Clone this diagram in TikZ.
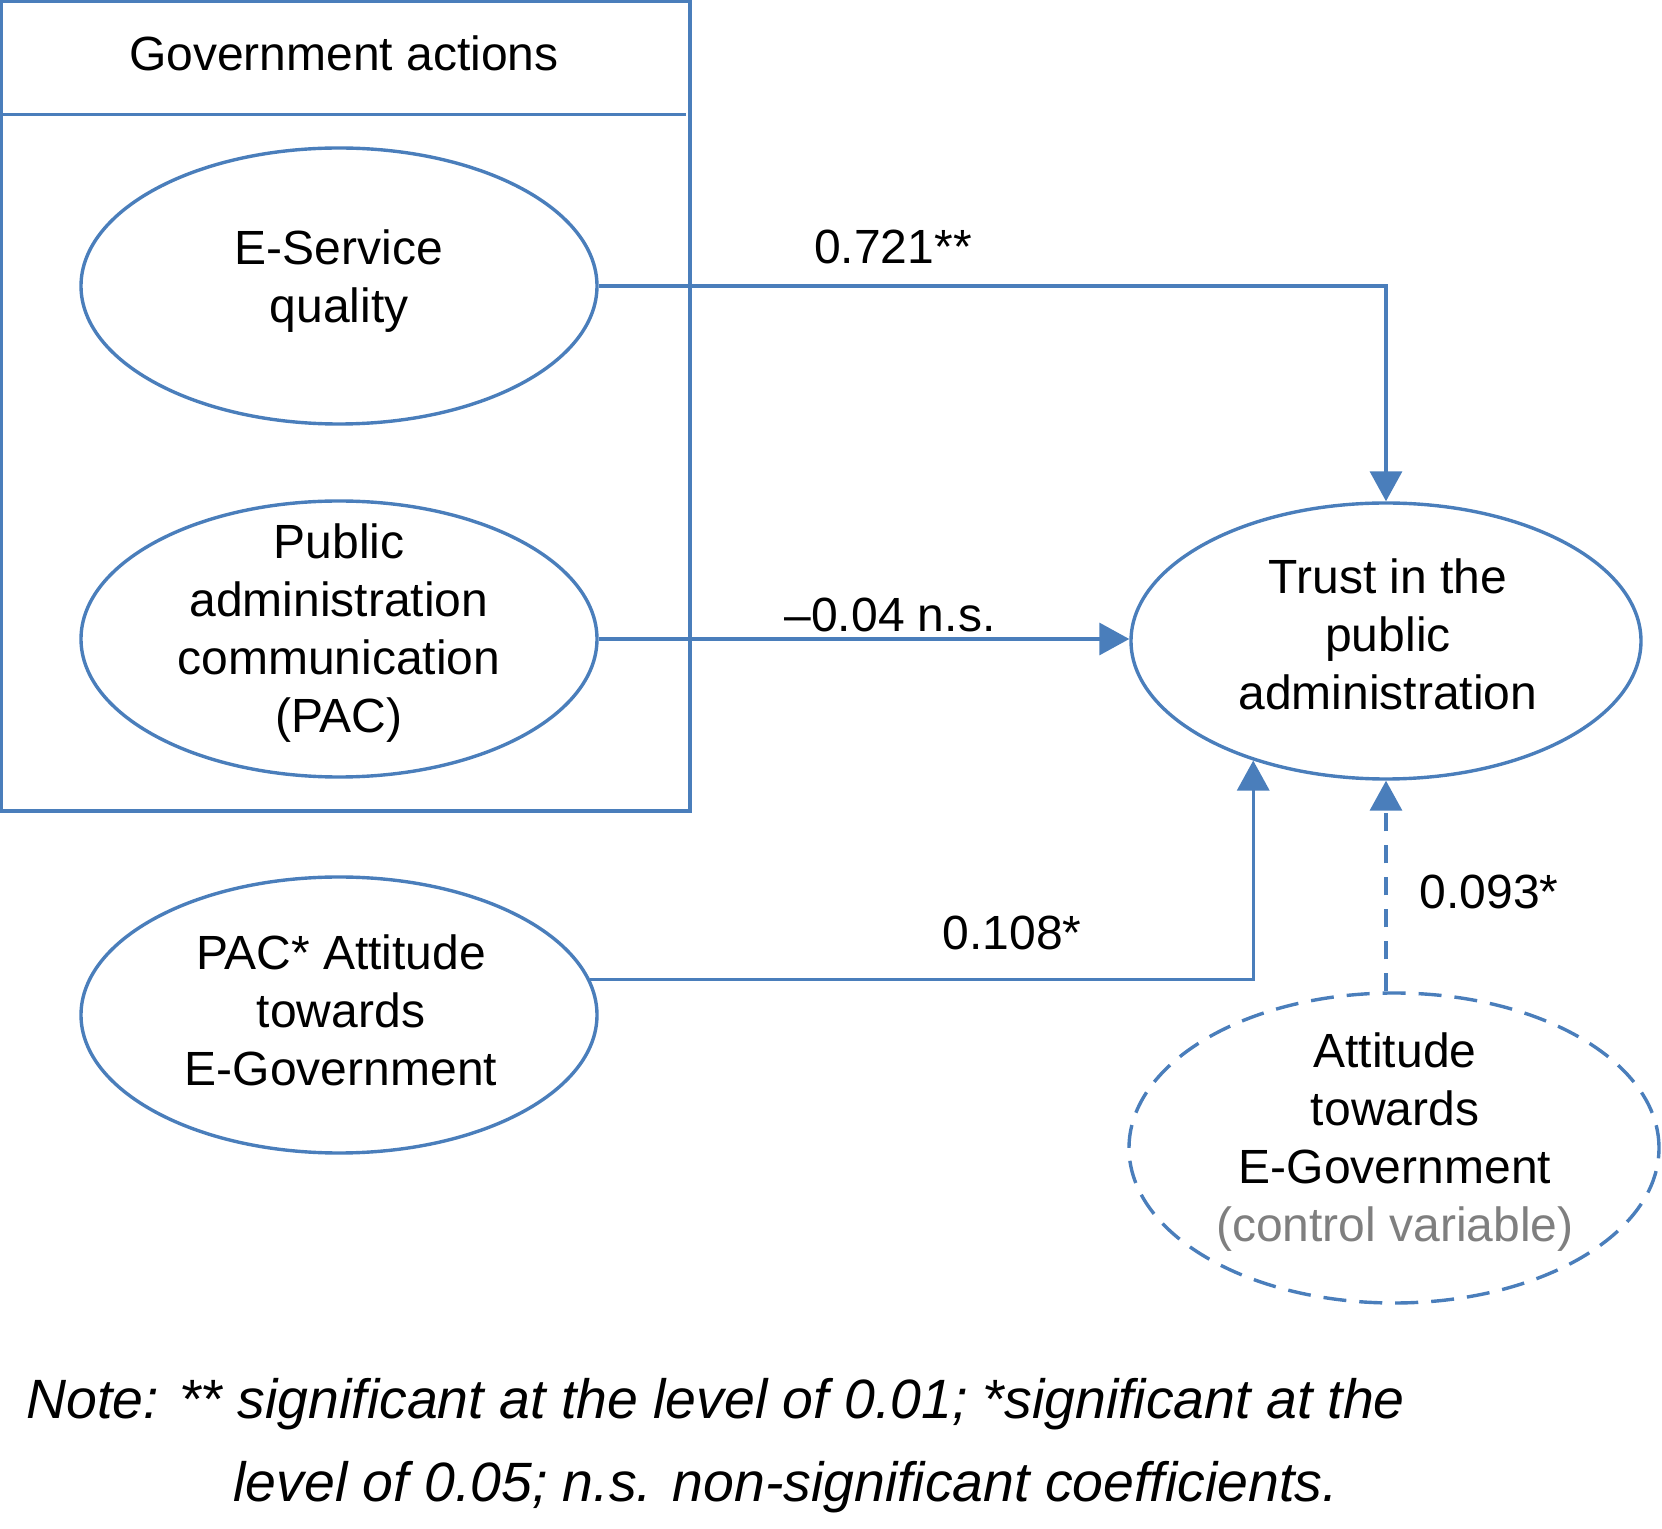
\documentclass[tikz,border=0pt]{standalone}
\usepackage{fontspec}
\setmainfont{Liberation Sans}
\usetikzlibrary{shapes.geometric,arrows.meta}
\definecolor{lineblue}{RGB}{74,126,187}
\definecolor{ctrlgray}{RGB}{127,127,127}
\begin{document}
\begin{tikzpicture}[x=0.5pt,y=-0.5pt,
  oval/.style={ellipse, draw=lineblue, line width=1.7pt, inner sep=0pt},
  txt/.style={font=\fontsize{24}{29}\selectfont, align=center, inner sep=0pt},
  conn/.style={draw=lineblue, line width=1.7pt, -{Triangle[width=16pt,length=15pt]}},
  notetxt/.style={font=\fontsize{27.7}{34}\selectfont\itshape, inner sep=0pt, anchor=base west},
]
\useasboundingbox (0,0) rectangle (1662,1529);
% group box
\node[draw=lineblue, line width=1.7pt, minimum width=344.25pt, minimum height=404.75pt, inner sep=0pt] (gbox) at (345.75,406.25) {};
\draw[lineblue, line width=1.7pt] (gbox.west |- 0,114.5) -- (686,114.5);
\node[txt] (title) at (344,53) {Government actions};
% ellipses
\node[oval, minimum width=258pt, minimum height=138pt] (esq) at (339,286) {};
\node[oval, minimum width=258pt, minimum height=138pt] (pac) at (339,639) {};
\node[oval, minimum width=258pt, minimum height=138pt] (paca) at (339,1015) {};
\node[oval, minimum width=255pt, minimum height=138pt] (trust) at (1386,641) {};
\node[oval, dashed, dash pattern=on 11.5pt off 6.5pt, minimum width=265pt, minimum height=155pt] (ctrl) at (1394,1148) {};
% texts
\node[txt] (esqt) at (339,281) {E-Service\\quality};
\node[txt] (pact) at (339,633) {Public\\administration\\communication\\(PAC)};
\node[txt] (pacat) at (341,1010) {PAC* Attitude\\towards\\E-Government};
\node[txt] (trustt) at (1388,634) {Trust in the\\public\\administration};
\node[txt] (ctrlt) at (1395,1142) {Attitude\\towards\\E-Government\\\textcolor{ctrlgray}{(control variable)}};
% connectors
\draw[conn] (esq.east) -| (trust.north);
\draw[conn] (pac.east) -- (pac.east -| trust.west);
\draw[conn] (paca.8) -| (trust.222);
\draw[conn, dash pattern=on 9pt off 7pt] (trust.south |- ctrl.north) -- (trust.south);
% labels
\node[txt] (l1) at (893,247) {0.721**};
\node[txt] (l2) at (890,615) {\textendash0.04 n.s.};
\node[txt] (l3) at (1012,933) {0.108*};
\node[txt] (l4) at (1489,892) {0.093*};
% note
\node[notetxt] (note1) at (26,1418) {Note: ** significant at the level of 0.01; *significant at the};
\node[notetxt] (note2) at (233,1501) {level of 0.05; n.s. non-significant coefficients.};
\end{tikzpicture}
\end{document}
